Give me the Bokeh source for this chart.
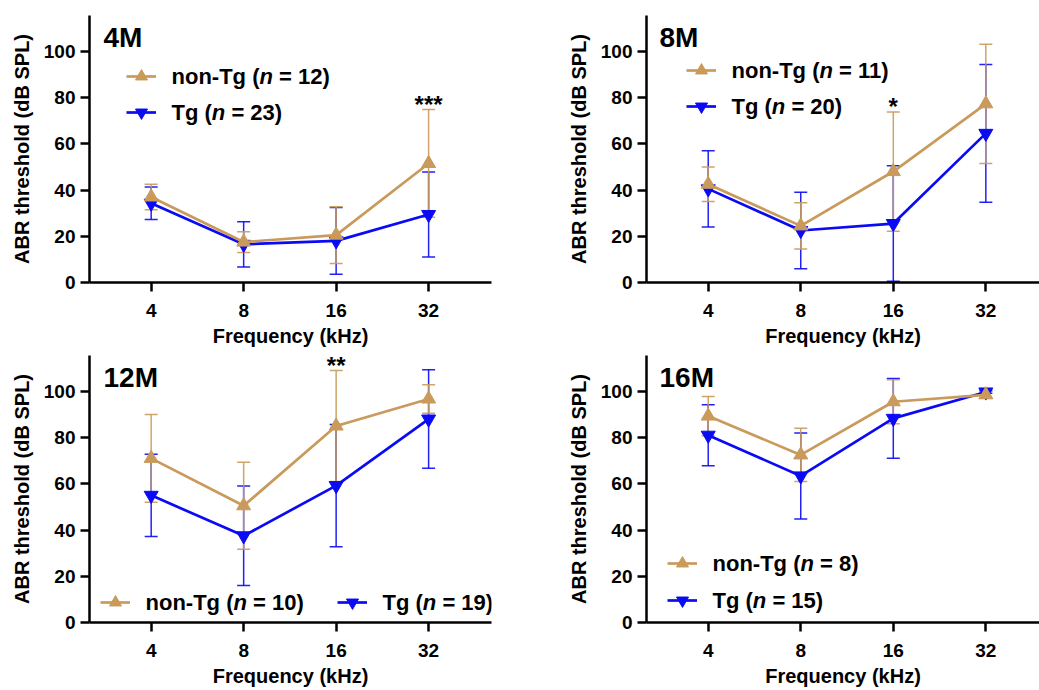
import numpy as np
from bokeh.plotting import figure
from bokeh.layouts import gridplot
from bokeh.models import (Range1d, FixedTicker, Whisker, TeeHead, ColumnDataSource,
                          Legend, LegendItem, Label)
from bokeh.embed import file_html
from bokeh.resources import INLINE

# ---------------- data ----------------
freqs = ["4", "8", "16", "32"]          # kHz, categorical x
ages = ["4M", "8M", "12M", "16M"]
yticks = [0, 20, 40, 60, 80, 100]

nontg_n = [12, 11, 10, 8]
tg_n = [23, 20, 19, 15]

nontg_mean_4m = [37.0, 17.5, 20.5, 51.5]
nontg_sd_4m = [5.5, 4.5, 12.3, 23.3]
tg_mean_4m = [34.3, 16.5, 18.0, 29.4]
tg_sd_4m = [7.0, 9.8, 14.4, 18.4]

nontg_mean_8m = [42.5, 24.5, 48.0, 77.3]
nontg_sd_8m = [7.5, 10.0, 25.8, 25.8]
tg_mean_8m = [40.5, 22.5, 25.5, 64.5]
tg_sd_8m = [16.5, 16.5, 25.0, 29.8]

nontg_mean_12m = [71.0, 50.5, 85.0, 96.7]
nontg_sd_12m = [19.0, 18.8, 24.0, 6.2]
tg_mean_12m = [55.0, 37.5, 59.2, 88.0]
tg_sd_12m = [17.8, 21.5, 26.4, 21.3]

nontg_mean_16m = [89.3, 72.5, 95.5, 98.5]
nontg_sd_16m = [8.5, 11.5, 9.5, 1.5]
tg_mean_16m = [81.0, 63.4, 88.3, 99.7]
tg_sd_16m = [13.2, 18.6, 17.2, 0.5]

stars = ["***", "*", "**", ""]
star_freq = ["32", "16", "16", ""]

# ---------------- style ----------------
TAN = "#C99A5B"
BLUE = "#0A0AF5"
FONT = "Liberation Sans"
LEG_FS = 22  # legend font size, px

xs = list(range(len(freqs)))

panels = [
    (nontg_mean_4m, nontg_sd_4m, tg_mean_4m, tg_sd_4m),
    (nontg_mean_8m, nontg_sd_8m, tg_mean_8m, tg_sd_8m),
    (nontg_mean_12m, nontg_sd_12m, tg_mean_12m, tg_sd_12m),
    (nontg_mean_16m, nontg_sd_16m, tg_mean_16m, tg_sd_16m),
]

# layout per panel: (width, height, border_left, border_right, border_top, border_bottom, x_end)
geom = [
    (520, 349, 89, 29, 15, 66, 3.68),
    (519, 349, 126, 0, 15, 66, 3.58),
    (520, 341, 89, 29, 6, 68, 3.68),
    (519, 341, 126, 0, 6, 68, 3.58),
]
# legend item placement (screen px from frame left / bottom): (x, y_center) for non-Tg, Tg
legend_pos = [
    ((37, 206), (37, 170)),
    ((40, 212), (40, 176)),
    ((11, 20), (248, 20)),
    ((21, 59), (21, 22)),
]
title_x = [14, 13, 14, 13]

# Arial/Liberation Sans Bold advance widths (1/1000 em)
ADV = {"n": 611, "o": 611, "-": 333, "T": 611, "g": 611, " ": 278, "(": 333}


def text_w(s, fs):
    return sum(ADV[c] for c in s) * fs / 1000.0


def style_axis(ax):
    ax.axis_line_width = 2.5
    ax.axis_line_color = "black"
    ax.major_tick_line_width = 2.5
    ax.major_tick_line_color = "black"
    ax.major_tick_out = 9
    ax.major_tick_in = 0
    ax.minor_tick_line_color = None
    ax.major_label_text_font = FONT
    ax.major_label_text_font_size = "19px"
    ax.major_label_text_font_style = "bold"
    ax.major_label_text_color = "black"
    ax.axis_label_text_font = FONT
    ax.axis_label_text_font_size = "20px"
    ax.axis_label_text_font_style = "bold"
    ax.axis_label_text_color = "black"


def legend_text(p, x, y, head, n):
    """Draw 'head(' + italic n + '= N)' as separate labels in screen units."""
    kw = dict(x_units="screen", y_units="screen", text_font=FONT,
              text_font_size=f"{LEG_FS}px", text_color="black", text_baseline="middle")
    p.add_layout(Label(x=x, y=y, text=head, text_font_style="bold", **kw))
    xn = x + text_w(head, LEG_FS)
    p.add_layout(Label(x=xn, y=y, text="n", text_font_style="bold italic", **kw))
    xr = xn + 611 * LEG_FS / 1000.0 + 278 * LEG_FS / 1000.0
    p.add_layout(Label(x=xr, y=y, text=f"= {n})", text_font_style="bold", **kw))


figs = []
for i, (nm, ns, tm, ts) in enumerate(panels):
    w, h, bl, br, bt, bb, xend = geom[i]
    p = figure(width=w, height=h, x_range=Range1d(-0.667, xend), y_range=Range1d(0, 115.5),
               output_backend="svg", toolbar_location=None,
               min_border_left=bl, min_border_right=br, min_border_top=bt, min_border_bottom=bb)
    p.outline_line_color = None
    p.xgrid.visible = False
    p.ygrid.visible = False
    p.xaxis.ticker = FixedTicker(ticks=xs)
    p.xaxis.major_label_overrides = {x: f for x, f in zip(xs, freqs)}
    p.yaxis.ticker = FixedTicker(ticks=yticks)
    style_axis(p.xaxis[0])
    style_axis(p.yaxis[0])
    p.xaxis.major_label_standoff = 12
    p.xaxis.axis_label_standoff = 5
    p.yaxis.major_label_standoff = 5
    p.yaxis.axis_label_standoff = 8
    p.xaxis.axis_label = "Frequency (kHz)"
    p.yaxis.axis_label = "ABR threshold (dB SPL)"

    nm_a, ns_a, tm_a, ts_a = map(np.array, (nm, ns, tm, ts))
    src_t = ColumnDataSource(dict(x=xs, y=tm_a, up=tm_a + ts_a, lo=np.maximum(tm_a - ts_a, 0)))
    src_n = ColumnDataSource(dict(x=xs, y=nm_a, up=nm_a + ns_a, lo=np.maximum(nm_a - ns_a, 0)))

    for src, col in ((src_t, BLUE), (src_n, TAN)):
        wk = Whisker(base="x", upper="up", lower="lo", source=src,
                     line_color=col, line_width=1.5, line_alpha=0.9,
                     upper_head=TeeHead(size=13, line_color=col, line_width=1.5, line_alpha=0.9),
                     lower_head=TeeHead(size=13, line_color=col, line_width=1.5, line_alpha=0.9))
        p.add_layout(wk)

    lt = p.line("x", "y", source=src_t, line_color=BLUE, line_width=2.7)
    st = p.scatter("x", "y", source=src_t, marker="inverted_triangle", size=14,
                   fill_color=BLUE, line_color=BLUE)
    ln = p.line("x", "y", source=src_n, line_color=TAN, line_width=2.7)
    sn = p.scatter("x", "y", source=src_n, marker="triangle", size=14,
                   fill_color=TAN, line_color=TAN)

    # significance stars (placed above the highest error bar at that frequency)
    if stars[i]:
        k = freqs.index(star_freq[i])
        top = max(nm[k] + ns[k], tm[k] + ts[k])
        p.add_layout(Label(x=xs[k], y=top, text=stars[i], text_font=FONT,
                           text_font_size="24px", text_font_style="bold", text_color="black",
                           text_align="center", text_baseline="middle", y_offset=5))

    # panel title
    p.add_layout(Label(x=title_x[i], y=245, x_units="screen", y_units="screen",
                       text=ages[i], text_font=FONT, text_font_size="28px",
                       text_font_style="bold", text_color="black",
                       text_baseline="middle"))

    # legend: glyphs via Bokeh legends, text via labels (italic n)
    for (lx, ly), rends, head, n in (
            (legend_pos[i][0], [ln, sn], "non-Tg (", nontg_n[i]),
            (legend_pos[i][1], [lt, st], "Tg (", tg_n[i])):
        leg = Legend(items=[LegendItem(label="", renderers=rends)],
                     location=(lx, ly - 16), padding=0, margin=0, spacing=0,
                     glyph_width=30, glyph_height=32, label_standoff=0,
                     border_line_color=None, background_fill_alpha=0,
                     label_text_font_size="1px")
        p.add_layout(leg)
        legend_text(p, lx + 45, ly, head, n)
    figs.append(p)

grid = gridplot([[figs[0], figs[1]], [figs[2], figs[3]]], toolbar_location=None)

open("out.html", "w").write(file_html(grid, INLINE))
